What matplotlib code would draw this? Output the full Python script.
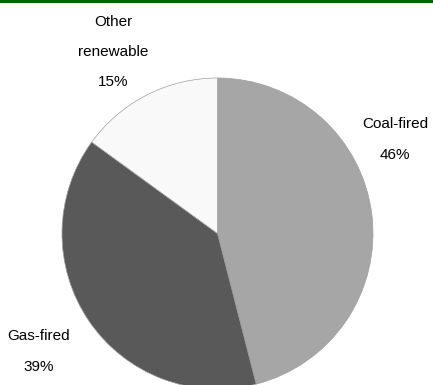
import matplotlib
matplotlib.use("Agg")
import matplotlib.pyplot as plt
from matplotlib.patches import Rectangle

# generation mix (%)
sources = ["Coal-fired", "Gas-fired", "Other\nrenewable"]
shares = [46, 39, 15]
colors = ["#a6a6a6", "#595959", "#f9f9f9"]

W, H = 433, 385
fig = plt.figure(figsize=(W / 100, H / 100), dpi=100)
plt.rcParams["font.family"] = ["Liberation Sans", "DejaVu Sans"]

# dark green rule along the top edge
fig.patches.append(Rectangle((0, 1 - 3 / H), 1, 3 / H, transform=fig.transFigure,
                             facecolor="#006600", edgecolor="none"))

# pie: centre (217.5, 233.5) px from top-left, radius 155.5 px
cx, cy, r = 217.5, 233.5, 155.5
ax = fig.add_axes([(cx - r) / W, (H - cy - r) / H, 2 * r / W, 2 * r / H])
wedges, _ = ax.pie(shares, colors=colors, startangle=90, counterclock=False,
                   radius=1.0, wedgeprops=dict(edgecolor="#a0a0a0", linewidth=0.5))
ax.set_xlim(-1, 1)
ax.set_ylim(-1, 1)
ax.set_aspect("equal")
ax.axis("off")
for w in wedges:
    w.set_clip_on(False)

# labels positioned around the pie (pixel coords from top-left)
label_pos = {"Coal-fired": (395, 139.5), "Gas-fired": (39, 351.5), "Other\nrenewable": (113, 52)}
for name, pct in zip(sources, shares):
    x, y = label_pos[name]
    fig.text(x / W, 1 - y / H, f"{name}\n{pct}%", ha="center", va="center",
             fontsize=11, linespacing=2.5, color="black")

fig.savefig("out.png", dpi=100)
